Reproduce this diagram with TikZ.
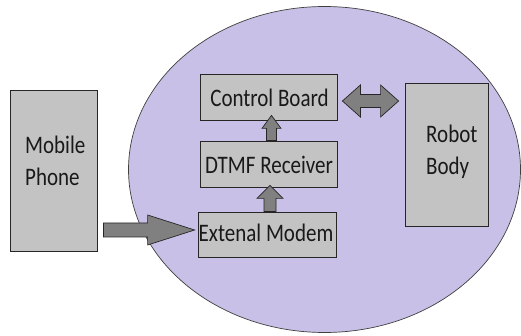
\documentclass[tikz,border=0pt]{standalone}
\usepackage{fontspec}
\setmainfont{Carlito}
\usetikzlibrary{calc}
\definecolor{lav}{RGB}{200,192,230}
\definecolor{boxgray}{RGB}{195,195,195}
\definecolor{arrgray}{RGB}{128,128,128}
\newcommand\lbl[1]{\scalebox{1}[1.2]{\begin{tabular}[t]{@{}l@{}}#1\end{tabular}}}
\newcommand\blockarr[5]{% tail, tip, shaft half, head half, head length
  \path ($(#2)!#5pt!(#1)$) coordinate (hb);
  \filldraw[arrowstyle]
    ($(#1)!#3pt!90:(#2)$) -- ($(hb)!#3pt!-90:(#1)$) -- ($(hb)!#4pt!-90:(#1)$) -- (#2)
    -- ($(hb)!#4pt!90:(#1)$) -- ($(hb)!#3pt!90:(#1)$) -- ($(#1)!#3pt!-90:(#2)$) -- cycle;}
\tikzset{
  boxstyle/.style={draw=black!85, line width=0.8pt, fill=boxgray, inner sep=0pt},
  txt/.style={font=\fontsize{21}{26}\selectfont, inner sep=0pt, text=black!90},
  arrowstyle/.style={fill=arrgray, draw=black!85, line width=0.7pt, line join=miter},
  ellstyle/.style={fill=lav, draw=black!75, line width=0.7pt}
}
\begin{document}
\begin{tikzpicture}[x=1pt,y=-1pt]
\useasboundingbox (0,0) rectangle (521,336);
\draw[ellstyle] (324.5,169.5) ellipse [x radius=196, y radius=163];
% boxes
\node[boxstyle, minimum width=87pt, minimum height=161pt] (phone) at (53.5,170.5) {};
\node[boxstyle, minimum width=137pt, minimum height=46pt] (ctrl) at (268.5,97) {};
\node[boxstyle, minimum width=137pt, minimum height=46pt] (dtmf) at (268.5,164) {};
\node[boxstyle, minimum width=138pt, minimum height=45pt] (modem) at (267,234.5) {};
\node[boxstyle, minimum width=83pt, minimum height=143pt] (robot) at (446.5,154.5) {};
% texts
\node[txt, anchor=base west] (phonetxt) at (25,154) {\lbl{Mobile\\Phone}};
\node[txt, anchor=base west] (robottxt) at (426,143) {\lbl{Robot\\Body}};
\node[txt, anchor=base] (ctrltxt) at (269.5,107) {\lbl{Control Board}};
\node[txt, anchor=base] (dtmftxt) at (269,174) {\lbl{DTMF Receiver}};
\node[txt, anchor=base] (modemtxt) at (266,242) {\lbl{Extenal Modem}};
% arrows
\coordinate (bigtail) at ($(phone.east)+(6,59.5)$);
\coordinate (bigtip) at ($(modem.west)+(-3,-4.5)$);
\blockarr{bigtail}{bigtip}{7}{15}{47}
\coordinate (u1tail) at ($(dtmf.north)+(3,0)$);
\coordinate (u1tip) at ($(ctrl.south)+(3,-5)$);
\blockarr{u1tail}{u1tip}{5}{9.5}{13}
\coordinate (u2tail) at ($(modem.north)+(3,0)$);
\coordinate (u2tip) at ($(dtmf.south)+(1.5,-2)$);
\blockarr{u2tail}{u2tip}{6}{13}{13}
% double arrow
\coordinate (dl) at ($(ctrl.east)+(5,4)$);
\coordinate (dr) at ($(robot.west)+(-6,-53.5)$);
\path ($(dl)!18pt!(dr)$) coordinate (dlb) ($(dr)!18pt!(dl)$) coordinate (drb);
\filldraw[arrowstyle] (dl) -- ($(dlb)!16pt!90:(dr)$) -- ($(dlb)!6.5pt!90:(dr)$)
  -- ($(drb)!6.5pt!-90:(dl)$) -- ($(drb)!16pt!-90:(dl)$) -- (dr)
  -- ($(drb)!16pt!90:(dl)$) -- ($(drb)!6.5pt!90:(dl)$)
  -- ($(dlb)!6.5pt!-90:(dr)$) -- ($(dlb)!16pt!-90:(dr)$) -- cycle;
\end{tikzpicture}
\end{document}
